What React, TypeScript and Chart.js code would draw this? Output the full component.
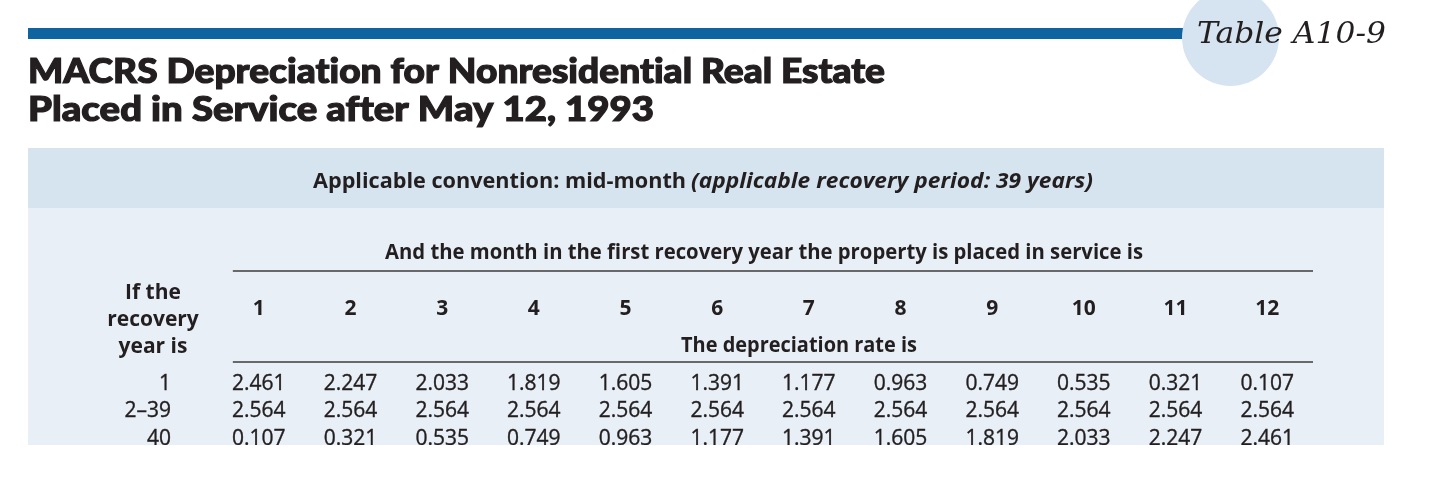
import React, { useEffect, useRef } from "react";
import { Chart, registerables } from "chart.js";

Chart.register(...registerables);

// ---- Data ----
const months = [1, 2, 3, 4, 5, 6, 7, 8, 9, 10, 11, 12];
const monthLabels = ["1", "2", "3", "4", "5", "6", "7", "8", "9", "10", "11", "12"];
const rowLabels = ["1", "2–39", "40"];
const year1Rates = [2.461, 2.247, 2.033, 1.819, 1.605, 1.391, 1.177, 0.963, 0.749, 0.535, 0.321, 0.107];
const years2to39Rates = [2.564, 2.564, 2.564, 2.564, 2.564, 2.564, 2.564, 2.564, 2.564, 2.564, 2.564, 2.564];
const year40Rates = [0.107, 0.321, 0.535, 0.749, 0.963, 1.177, 1.391, 1.605, 1.819, 2.033, 2.247, 2.461];

const titleLines = [
  "MACRS Depreciation for Nonresidential Real Estate",
  "Placed in Service after May 12, 1993",
];
const tableTag = "Table A10-9";
const conventionText = "Applicable convention: mid-month";
const periodText = "(applicable recovery period: 39 years)";
const monthHeader = "And the month in the first recovery year the property is placed in service is";
const rateHeader = "The depreciation rate is";
const rowHeaderLines = ["If the", "recovery", "year is"];

const INK = "#231f20";
const SANS = '"Open Sans", "Noto Sans", sans-serif';

function fitText(
  ctx: CanvasRenderingContext2D,
  text: string,
  x: number,
  y: number,
  font: string,
  width: number,
  stroke = 0
) {
  ctx.font = font;
  ctx.textAlign = "left";
  ctx.textBaseline = "alphabetic";
  const w = ctx.measureText(text).width;
  const s = w > 0 ? width / w : 1;
  ctx.save();
  ctx.translate(x, y);
  ctx.scale(s, 1);
  ctx.fillText(text, 0, 0);
  if (stroke > 0) {
    ctx.strokeStyle = ctx.fillStyle as string;
    ctx.lineWidth = stroke;
    ctx.strokeText(text, 0, 0);
  }
  ctx.restore();
}

const tablePlugin = {
  id: "tablePlugin",
  beforeDraw(chart: any) {
    const ctx: CanvasRenderingContext2D = chart.ctx;
    const xs = chart.scales.x;
    ctx.save();
    ctx.fillStyle = "#ffffff";
    ctx.fillRect(0, 0, chart.width, chart.height);

    // top blue rule
    ctx.fillStyle = "#0f64a0";
    ctx.fillRect(28, 28, 1172, 11);
    // circle badge
    ctx.fillStyle = "#d5e4f0";
    ctx.beginPath();
    ctx.arc(1230.5, 37.5, 48.5, 0, Math.PI * 2);
    ctx.fill();
    ctx.fillStyle = INK;
    fitText(ctx, tableTag, 1197, 43, 'italic 30px "DejaVu Serif", serif', 189);

    // title (ligatures off via tiny letter spacing)
    (ctx as any).letterSpacing = "0.01px";
    fitText(ctx, titleLines[0], 28, 83, '900 35px Lato, "Open Sans", sans-serif', 857, 1.2);
    fitText(ctx, titleLines[1], 28, 121, '900 35px Lato, "Open Sans", sans-serif', 626, 1.2);
    (ctx as any).letterSpacing = "0px";

    // bands
    ctx.fillStyle = "#d6e4ef";
    ctx.fillRect(28, 148, 1356, 60);
    ctx.fillStyle = "#e9eff7";
    ctx.fillRect(28, 208, 1356, 237);

    ctx.fillStyle = INK;
    fitText(ctx, conventionText, 313, 188, `bold 22px ${SANS}`, 373);
    fitText(ctx, periodText, 691, 188, `italic bold 22px ${SANS}`, 402);

    fitText(ctx, monthHeader, 385, 259, `bold 22px ${SANS}`, 758);

    // rules
    const left = xs.getPixelForValue(months[0]) - 26;
    const right = chart.chartArea.right;
    ctx.strokeStyle = "#3c3c3c";
    ctx.lineWidth = 1.5;
    [271, 362].forEach((y) => {
      ctx.beginPath();
      ctx.moveTo(left, y);
      ctx.lineTo(right, y);
      ctx.stroke();
    });

    // month headers
    ctx.font = `bold 21px ${SANS}`;
    ctx.textAlign = "center";
    ctx.textBaseline = "alphabetic";
    months.forEach((m, i) => {
      ctx.fillText(monthLabels[i], xs.getPixelForValue(m), 315);
    });

    // row header
    ctx.font = `bold 21px ${SANS}`;
    rowHeaderLines.forEach((t, i) => {
      ctx.fillText(t, 153, 299 + i * 27);
    });

    fitText(ctx, rateHeader, 681, 352, `bold 22px ${SANS}`, 236);
    ctx.restore();
  },
  afterDatasetsDraw(chart: any) {
    const ctx: CanvasRenderingContext2D = chart.ctx;
    const ys = chart.scales.y;
    ctx.save();
    ctx.beginPath();
    ctx.rect(28, 208, 1356, 237);
    ctx.clip();
    ctx.fillStyle = INK;
    ctx.strokeStyle = INK;
    ctx.lineWidth = 0.35;
    ctx.font = `21px ${SANS}`;
    ctx.textBaseline = "alphabetic";
    chart.data.datasets.forEach((ds: any, di: number) => {
      const meta = chart.getDatasetMeta(di);
      ctx.textAlign = "center";
      meta.data.forEach((pt: any, i: number) => {
        const t = (ds.data[i].v as number).toFixed(3);
        ctx.fillText(t, pt.x, pt.y + 7.5);
        ctx.strokeText(t, pt.x, pt.y + 7.5);
      });
      ctx.textAlign = "right";
      const ly = ys.getPixelForValue(di + 1) + 7.5;
      ctx.fillText(rowLabels[di], 171, ly);
      ctx.strokeText(rowLabels[di], 171, ly);
    });
    ctx.restore();
  },
};

export default function App() {
  const ref = useRef<HTMLCanvasElement>(null);
  useEffect(() => {
    if (!ref.current) return;
    const rows = [year1Rates, years2to39Rates, year40Rates];
    const chart = new Chart(ref.current, {
      type: "scatter",
      data: {
        datasets: rows.map((vals, r) => ({
          label: rowLabels[r],
          data: vals.map((v, i) => ({ x: months[i], y: r + 1, v })),
          pointRadius: 0,
          pointHoverRadius: 0,
        })),
      },
      options: {
        animation: false,
        responsive: false,
        maintainAspectRatio: false,
        devicePixelRatio: 1,
        layout: { padding: { left: 213, right: 137, top: 368.5, bottom: 35.2 } },
        scales: {
          x: { type: "linear", min: 0.5, max: 12.5, display: false },
          y: { type: "linear", min: 0.5, max: 3.5, reverse: true, display: false },
        },
        plugins: { legend: { display: false }, tooltip: { enabled: false } },
      },
      plugins: [tablePlugin],
    } as any);
    return () => chart.destroy();
  }, []);
  return (
    <div style={{ position: "absolute", left: 0, top: 0, width: 1450, height: 486, background: "#fff" }}>
      <canvas ref={ref} width={1450} height={486} style={{ width: 1450, height: 486, display: "block" }} />
    </div>
  );
}
